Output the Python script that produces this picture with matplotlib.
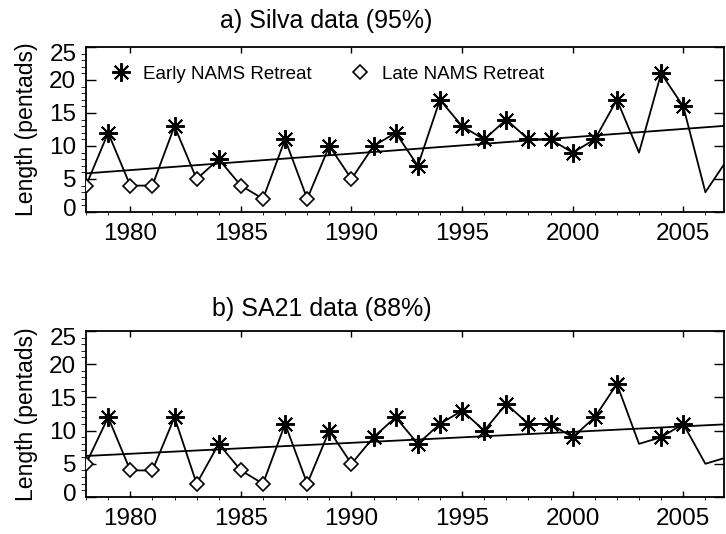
import numpy as np
import matplotlib
matplotlib.use("Agg")
import matplotlib.pyplot as plt
from matplotlib.lines import Line2D
from matplotlib.ticker import MultipleLocator
import matplotlib.transforms as mtransforms

plt.rcParams['font.family'] = ['Liberation Sans', 'DejaVu Sans']

# ===== data =====
years = np.arange(1978, 2008)

silva = [4, 12, 4, 4, 13, 5, 8, 4, 2, 11, 2, 10, 5,
         10, 12, 7, 17, 13, 11, 14, 11, 11, 9, 11, 17,
         9, 21, 16, 3, 8]
silva_kind = ['L', 'E', 'L', 'L', 'E', 'L', 'E', 'L', 'L', 'E', 'L', 'E', 'L',
              'E', 'E', 'E', 'E', 'E', 'E', 'E', 'E', 'E', 'E', 'E', 'E',
              '', 'E', 'E', '', '']

sa21 = [5, 12, 4, 4, 12, 2, 8, 4, 2, 11, 2, 10, 5,
        9, 12, 8, 11, 13, 10, 14, 11, 11, 9, 12, 17,
        8, 9, 11, 5, 6]
sa21_kind = ['L', 'E', 'L', 'L', 'E', 'L', 'E', 'L', 'L', 'E', 'L', 'E', 'L',
             'E', 'E', 'E', 'E', 'E', 'E', 'E', 'E', 'E', 'E', 'E', 'E',
             '', 'E', 'E', '', '']

titles = ["a) Silva data (95%)", "b) SA21 data (88%)"]

STAR = (8, 2, 0)
LW = 1.3

fig = plt.figure(figsize=(7.26, 5.34), dpi=100)
ax_a = fig.add_axes([0.1185, 0.603, 0.879, 0.309])
ax_b = fig.add_axes([0.1185, 0.0693, 0.879, 0.311])


def draw_panel(ax, vals, kinds):
    vals = np.array(vals, dtype=float)
    kinds = np.array(kinds)
    ax.plot(years, vals, color='k', lw=LW, zorder=2)

    # linear trend
    coef = np.polyfit(years, vals, 1)
    xx = np.array([1978, 2008])
    ax.plot(xx, np.polyval(coef, xx), color='k', lw=LW, zorder=2)

    e = kinds == 'E'
    l = kinds == 'L'
    ax.plot(years[e], vals[e], ls='none', marker=STAR, ms=13.5, mew=1.4,
            color='k', zorder=3)
    ax.plot(years[l], vals[l], ls='none', marker='D', ms=7.5, mew=1.2,
            mfc='white', mec='k', zorder=3)

    ax.set_xlim(1978, 2006.85)
    ax.set_ylim(0, 25)
    ax.xaxis.set_major_locator(MultipleLocator(5))
    ax.xaxis.set_minor_locator(MultipleLocator(1))
    ax.yaxis.set_major_locator(MultipleLocator(5))
    ax.yaxis.set_minor_locator(MultipleLocator(1))
    ax.tick_params(axis='both', direction='in', top=True, right=True,
                   labelsize=17.5, width=1.0)
    ax.tick_params(axis='x', which='major', length=4, pad=8)
    ax.tick_params(axis='x', which='minor', length=2)
    ax.tick_params(axis='y', which='major', length=7, pad=7)
    ax.tick_params(axis='y', which='minor', length=3.5)
    for s in ax.spines.values():
        s.set_linewidth(1.3)
    ax.set_ylabel("Length (pentads)", fontsize=16.6, labelpad=8)

    # IDL keeps the end labels inside the axis
    ax.figure.canvas.draw()
    for lab in ax.get_yticklabels():
        txt = lab.get_text()
        if txt == '0':
            lab.set_transform(lab.get_transform() +
                              mtransforms.ScaledTranslation(0, 3 / 72, fig.dpi_scale_trans))
        elif txt == '25':
            lab.set_transform(lab.get_transform() +
                              mtransforms.ScaledTranslation(0, -4 / 72, fig.dpi_scale_trans))


draw_panel(ax_a, silva, silva_kind)
draw_panel(ax_b, sa21, sa21_kind)

fig.text(326 / 726, 1 - 21 / 534, titles[0], ha='center', va='center', fontsize=18)
fig.text(322 / 726, 1 - 309 / 534, titles[1], ha='center', va='center', fontsize=18)

handles = [Line2D([], [], ls='none', marker=STAR, ms=13.5, mew=1.4, color='k'),
           Line2D([], [], ls='none', marker='D', ms=7.5, mew=1.2, mfc='white', mec='k')]
ax_a.legend(handles, ["Early NAMS Retreat", "Late NAMS Retreat"], ncol=2,
            loc='upper left', bbox_to_anchor=(0.02, 0.955), frameon=False,
            fontsize=13.5, handletextpad=0.55, columnspacing=2.0,
            handlelength=1.2, borderaxespad=0.2)

plt.savefig("out.png", dpi=100)
